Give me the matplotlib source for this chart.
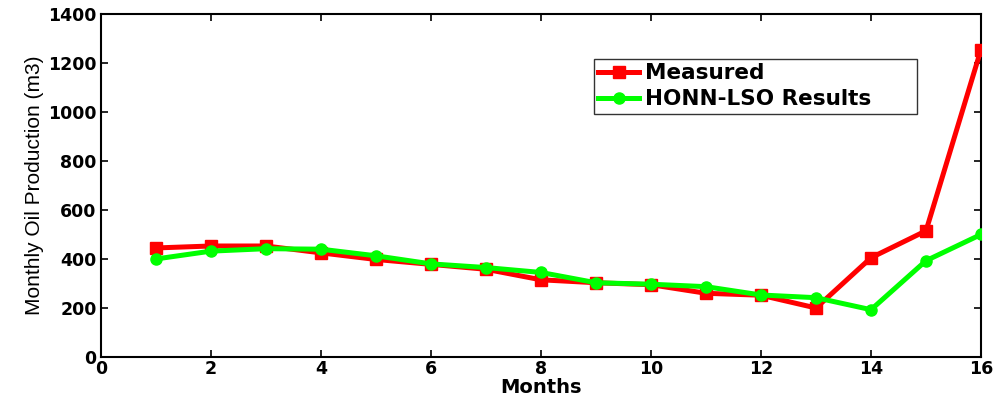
import matplotlib
matplotlib.use("Agg")
import matplotlib.pyplot as plt

months = list(range(1, 17))
measured = [445, 453, 453, 425, 398, 378, 358, 315, 303, 295, 260, 252, 200, 405, 515, 1255]
honn_lso = [400, 432, 442, 440, 413, 380, 365, 345, 303, 297, 287, 253, 242, 193, 393, 500]
x_ticks = [0, 2, 4, 6, 8, 10, 12, 14, 16]
y_ticks = [0, 200, 400, 600, 800, 1000, 1200, 1400]

fig = plt.figure(figsize=(9.99, 3.97), dpi=100)
ax = fig.add_axes([0.101, 0.1008, 0.881, 0.864])

ax.plot(months, measured, color='#ff0000', lw=3.6, marker='s', ms=8.5,
        label='Measured', zorder=3)
ax.plot(months, honn_lso, color='#00ff00', lw=3.6, marker='o', ms=8,
        label='HONN-LSO Results', zorder=4)

ax.set_xlim(0, 16)
ax.set_ylim(0, 1400)
ax.set_xticks(x_ticks)
ax.set_yticks(y_ticks)
ax.tick_params(direction='in', length=5, width=1.2, top=True, right=True,
               labelsize=12.5, pad=2)
ax.tick_params(axis='y', pad=3)
for lab in ax.get_xticklabels() + ax.get_yticklabels():
    lab.set_fontweight('bold')
    lab.set_family('DejaVu Sans')
for s in ax.spines.values():
    s.set_linewidth(1.5)

ax.set_xlabel('Months', fontsize=14, fontweight='bold', family='DejaVu Sans', labelpad=0)
ax.set_ylabel('Monthly Oil Production (m3)', fontsize=15,
              family='Liberation Sans', labelpad=3)

leg = ax.legend(loc='upper left', bbox_to_anchor=(0.56, 0.708, 0.367, 0.161),
                mode='expand',
                prop={'family': 'DejaVu Sans', 'weight': 'bold', 'size': 15.5},
                frameon=True, fancybox=False, edgecolor='black',
                handlelength=1.9, handletextpad=0.3, borderpad=0.2,
                labelspacing=0.28, borderaxespad=0)
leg.get_frame().set_linewidth(1.0)

fig.savefig('out.png', dpi=100)
